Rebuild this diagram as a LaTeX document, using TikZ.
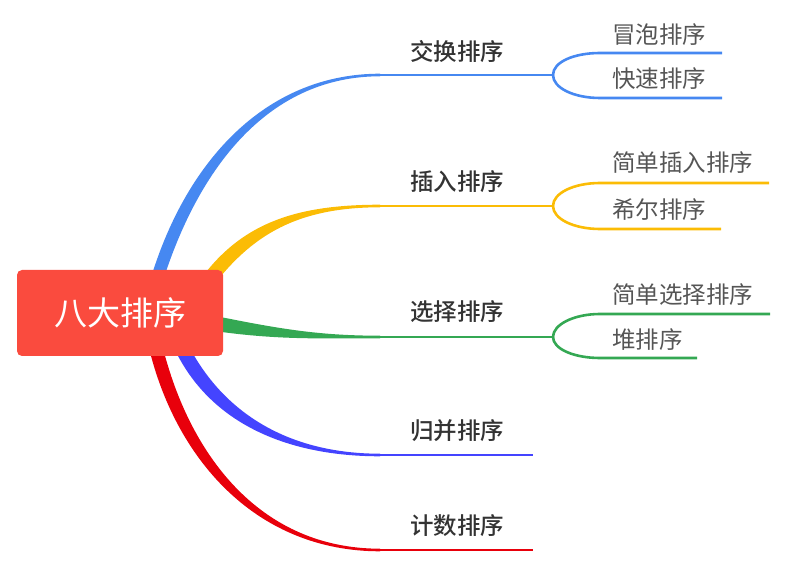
\documentclass[tikz,border=0pt]{standalone}
\usepackage{fontspec}
\setmainfont{Noto Sans CJK SC}
\newfontfamily\catfont{Noto Sans CJK SC Medium}
\usepackage{tikz}
\usetikzlibrary{calc, positioning}
\definecolor{swapblue}{HTML}{4688F1}
\definecolor{insertyellow}{HTML}{FBBC05}
\definecolor{selectgreen}{HTML}{34A853}
\definecolor{mergeviolet}{HTML}{4444FF}
\definecolor{countred}{HTML}{E8000B}
\definecolor{rootred}{HTML}{FA4B3E}
\definecolor{labelgray}{HTML}{333333}
\definecolor{leafgray}{HTML}{555555}
\tikzstyle{category} = [inner sep=0pt, text=labelgray, font=\fontsize{23.5}{23.5}\selectfont\catfont]
\tikzstyle{leaf} = [inner sep=0pt, anchor=west, text=leafgray, font=\fontsize{23.5}{23.5}\selectfont]
\tikzstyle{twig} = [line width=2.6pt]

\begin{document}
\begin{tikzpicture}[x=1pt, y=-1pt]
        \useasboundingbox (0, 0) rectangle (801, 577);

        \coordinate (swap) at (380, 75);
        \coordinate (swap_fork) at (553, 75);
        \coordinate (insert) at (380, 206);
        \coordinate (insert_fork) at (553, 206);
        \coordinate (select) at (380, 337);
        \coordinate (select_fork) at (553, 337);
        \coordinate (merge) at (380, 455);
        \coordinate (merge_end) at (533, 455);
        \coordinate (count) at (380, 550);
        \coordinate (count_end) at (533, 550);

        % tapered branches from the root
        \fill[swapblue] (151.5, 276) .. controls (188, 158) and (268, 73.7) .. ($(swap)+(0, -1.3)$) -- ($(swap)+(0, 1.3)$) .. controls (272, 76.3) and (202, 162) .. (164.5, 276) -- cycle;
        \fill[insertyellow] (203, 276) .. controls (244, 222) and (298, 204.7) .. ($(insert)+(0, -1.3)$) -- ($(insert)+(0, 1.3)$) .. controls (302, 207.3) and (258, 232) .. (221, 276) -- cycle;
        \fill[selectgreen] (218, 316.5) .. controls (280, 329) and (320, 335.7) .. ($(select)+(0, -1.3)$) -- ($(select)+(0, 1.3)$) .. controls (320, 338.3) and (280, 340) .. (218, 331.5) -- cycle;
        \fill[mergeviolet] (176, 352) .. controls (212, 424) and (288, 456.3) .. ($(merge)+(0, 1.3)$) -- ($(merge)+(0, -1.3)$) .. controls (292, 453.7) and (228, 416) .. (192, 352) -- cycle;
        \fill[countred] (150, 352) .. controls (178, 462) and (258, 551.3) .. ($(count)+(0, 1.3)$) -- ($(count)+(0, -1.3)$) .. controls (262, 548.7) and (192, 458) .. (164, 352) -- cycle;

        \node[rectangle, rounded corners=5pt, fill=rootred, minimum width=206pt, minimum height=86pt, text=white, font=\fontsize{33}{33}\selectfont] at (120, 313) (root) {八大排序};

        % categories
        \node[category] at (457, 51) (SwapSort) {交换排序};
        \node[category] at (457, 182) (InsertSort) {插入排序};
        \node[category] at (457, 312) (SelectSort) {选择排序};
        \node[category] at (457, 431) (MergeSort) {归并排序};
        \node[category] at (457, 526) (CountSort) {计数排序};

        \draw[twig, swapblue] (swap) -- (swap_fork);
        \draw[twig, insertyellow] (insert) -- (insert_fork);
        \draw[twig, selectgreen] (select) -- (select_fork);
        \draw[twig, mergeviolet] (merge) -- (merge_end);
        \draw[twig, countred] (count) -- (count_end);

        % leaves
        \node[leaf] at (612, 35) (BubbleSort) {冒泡排序};
        \node[leaf] at (612, 79) (QuickSort) {快速排序};
        \node[leaf] at (612, 163) (StraightInsert) {简单插入排序};
        \node[leaf] at (612, 210) (ShellSort) {希尔排序};
        \node[leaf] at (612, 295) (StraightSelect) {简单选择排序};
        \node[leaf] at (612, 340) (HeapSort) {堆排序};

        \coordinate (bubble_l) at (600, 53);   \coordinate (bubble_r) at (722, 53);
        \coordinate (quick_l) at (600, 98);    \coordinate (quick_r) at (722, 98);
        \coordinate (sinsert_l) at (600, 183); \coordinate (sinsert_r) at (769, 183);
        \coordinate (shell_l) at (600, 229);   \coordinate (shell_r) at (721, 229);
        \coordinate (sselect_l) at (600, 314); \coordinate (sselect_r) at (770, 314);
        \coordinate (heap_l) at (600, 358);    \coordinate (heap_r) at (697, 358);

        \draw[twig, swapblue] (swap_fork) .. controls +(0, -13) and +(-26, 0) .. (bubble_l) -- (bubble_r);
        \draw[twig, swapblue] (swap_fork) .. controls +(0, 13) and +(-26, 0) .. (quick_l) -- (quick_r);
        \draw[twig, insertyellow] (insert_fork) .. controls +(0, -13) and +(-26, 0) .. (sinsert_l) -- (sinsert_r);
        \draw[twig, insertyellow] (insert_fork) .. controls +(0, 13) and +(-26, 0) .. (shell_l) -- (shell_r);
        \draw[twig, selectgreen] (select_fork) .. controls +(0, -12.5) and +(-26, 0) .. (sselect_l) -- (sselect_r);
        \draw[twig, selectgreen] (select_fork) .. controls +(0, 12) and +(-26, 0) .. (heap_l) -- (heap_r);
    \end{tikzpicture}
\end{document}
